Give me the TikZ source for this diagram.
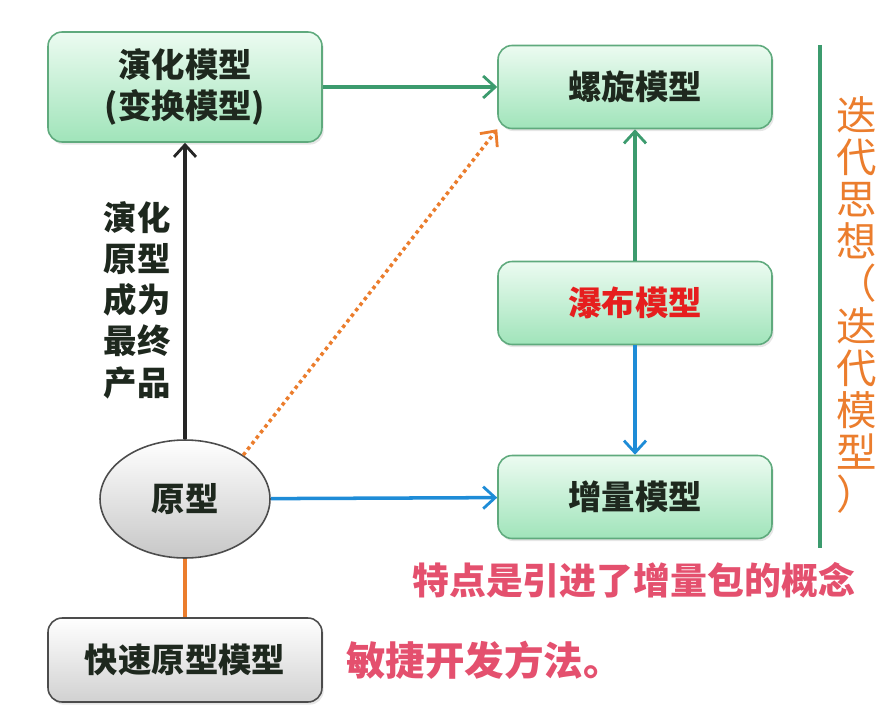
\documentclass[tikz,border=0pt]{standalone}
\usepackage{fontspec}
\setmainfont{Noto Sans CJK SC}
\usepackage{xcolor}
\usetikzlibrary{positioning,arrows.meta,shapes.geometric,shadows}

\definecolor{boxline}{RGB}{95,170,125}
\definecolor{boxtop}{RGB}{236,251,241}
\definecolor{boxbot}{RGB}{160,228,186}
\definecolor{arrgreen}{RGB}{60,155,110}
\definecolor{arrblue}{RGB}{30,140,215}
\definecolor{arrorange}{RGB}{235,125,45}
\definecolor{notepink}{RGB}{228,80,110}
\definecolor{txtdark}{RGB}{30,40,30}
\definecolor{wfred}{RGB}{230,30,30}

\begin{document}
\begin{tikzpicture}[x=0.02cm,y=-0.02cm,font=\bfseries\fontsize{19}{23}\selectfont,
  >={Straight Barb[length=2.4mm,width=4.4mm,line width=1.6pt]},
  model/.style={draw=boxline,line width=0.9pt,rounded corners=8pt,top color=boxtop,bottom color=boxbot,
    minimum width=5.48cm,minimum height=1.66cm,text=txtdark,align=center,
    drop shadow={opacity=0.2,shadow xshift=1pt,shadow yshift=-1.5pt}},
  greybox/.style={draw=black!70,line width=0.9pt,rounded corners=8pt,top color=white,bottom color=black!18,
    minimum width=5.48cm,minimum height=1.68cm,text=txtdark,
    drop shadow={opacity=0.2,shadow xshift=1pt,shadow yshift=-1.5pt}},
  link/.style={line width=2pt}]
  \useasboundingbox (0,0) rectangle (885,713);

  \node[model,minimum height=2.2cm] (evo) at (185,87) {演化模型\\(变换模型)};
  \node[model] (spiral) at (635,87) {螺旋模型};
  \node[model] (water) at (635,303) {\textcolor{wfred}{瀑布模型}};
  \node[model] (incr) at (635,497) {增量模型};
  \node[ellipse,draw=black!70,line width=0.9pt,top color=white,bottom color=black!22,
    minimum width=3.4cm,minimum height=2.36cm,text=txtdark] (proto) at (185,499) {原型};
  \node[greybox] (rapid) at (185,660) {快速原型模型};

  \draw[->,link,arrgreen] (evo) -- (spiral);
  \draw[->,link,black!85] (proto) -- (evo);
  \draw[->,link,arrorange,dotted] (proto.37) -- (spiral.south west);
  \draw[->,link,arrgreen] (water) -- (spiral);
  \draw[->,link,arrblue] (water) -- (incr);
  \draw[->,link,arrblue] (proto) -- (incr);
  \draw[link,arrorange] (proto) -- (rapid);

  \node[align=center,text=txtdark,font=\bfseries\fontsize{19}{23.5}\selectfont] (evolab) at (137,300) {演化\\原型\\成为\\最终\\产品};

  % divider and side note
  \coordinate (divtop) at (820,45);
  \coordinate (divbot) at (820,548);
  \draw[line width=2.2pt,arrgreen] (divtop) -- (divbot);
  \node[align=center,text=arrorange,font=\fontsize{23}{24}\selectfont] (iter) at (857,305)
    {迭\\代\\思\\想\\（\\迭\\代\\模\\型\\）};

  \node[anchor=west,text=notepink,font=\bfseries\fontsize{21}{25}\selectfont] (note) at (406,580) {特点是引进了增量包的概念};
  \node[anchor=west,text=notepink,font=\bfseries\fontsize{22.5}{26}\selectfont] (agile) at (340,660) {敏捷开发方法。};
\end{tikzpicture}
\end{document}
